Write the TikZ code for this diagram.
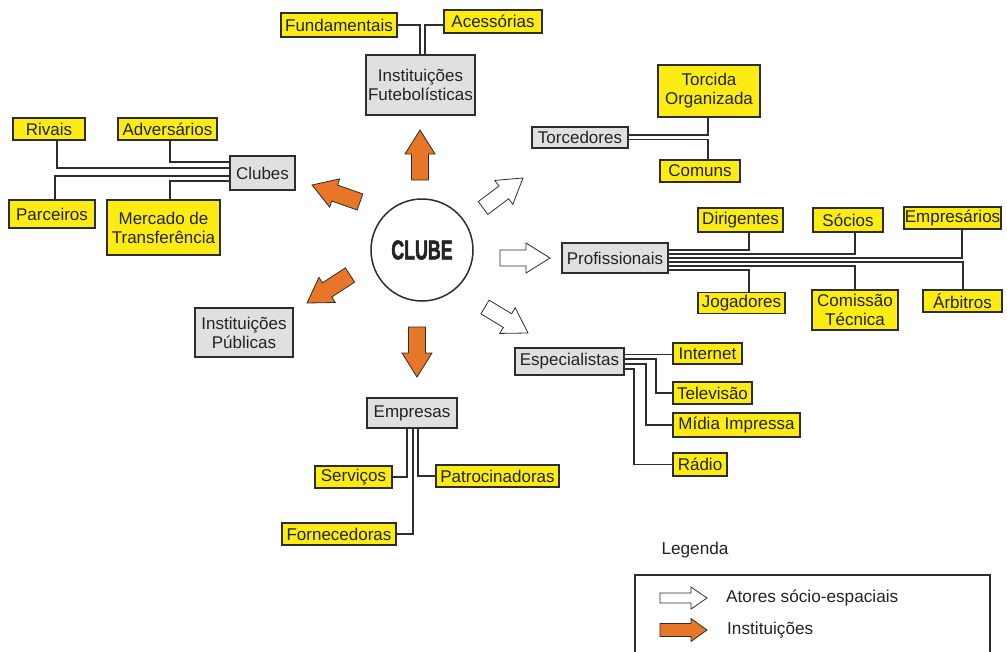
\documentclass[tikz,border=0pt]{standalone}
\usepackage{fontspec}
\setmainfont{Liberation Sans}
\newfontfamily\clubefont{Liberation Sans}[BoldFeatures={FakeBold=2.5}]
\usepackage{graphicx}
\usetikzlibrary{calc}
\definecolor{boxyellow}{RGB}{252,236,20}
\definecolor{boxgray}{RGB}{224,224,224}
\definecolor{arroworange}{RGB}{232,118,40}
\definecolor{linegray}{RGB}{45,45,45}
\definecolor{textgray}{RGB}{35,35,35}

\tikzset{
  ybox/.style={draw=linegray,line width=1.5pt,fill=boxyellow,inner sep=0pt,align=center,
    text=textgray,font=\fontsize{17}{19}\selectfont},
  gbox/.style={ybox,fill=boxgray},
  sz/.style 2 args={minimum width=#1pt,minimum height=#2pt},
  link/.style={draw=linegray,line width=1.5pt},
  thinlink/.style={draw=linegray,line width=0.8pt},
  orangeblock/.style={fill=arroworange,draw=linegray,line width=0.8pt},
  whiteblock/.style={fill=white,draw=linegray,line width=0.8pt},
  legtext/.style={anchor=west,inner sep=0pt,text=textgray,font=\fontsize{17.2}{19}\selectfont},
}

% style, tail, tip, shaft half width, head half width, head length
\newcommand\blockarrow[6]{%
  \coordinate (ba-t) at #2;
  \coordinate (ba-p) at #3;
  \coordinate (ba-h) at ($(ba-p)!#6pt!(ba-t)$);
  \draw[#1] ($(ba-t)!#4pt!90:(ba-p)$) -- ($(ba-h)!#4pt!-90:(ba-t)$) -- ($(ba-h)!#5pt!-90:(ba-t)$)
    -- (ba-p) -- ($(ba-h)!#5pt!90:(ba-t)$) -- ($(ba-h)!#4pt!90:(ba-t)$) -- ($(ba-t)!#4pt!-90:(ba-p)$) -- cycle;}

\begin{document}
\begin{tikzpicture}[x=1pt,y=-1pt]
  \useasboundingbox (0,0) rectangle (1007,651);

  % centro
  \node[circle,draw=linegray,line width=1.5pt,minimum size=102pt,inner sep=0pt,text=textgray,
    font=\clubefont\fontsize{27}{27}\selectfont\bfseries] (clube) at (422,250) {\scalebox{0.66}[1]{CLUBE}};

  % instituicoes futebolisticas
  \node[gbox,sz={109}{60}] (instfut) at (420.5,85) {Instituições\\Futebolísticas};
  \node[ybox,sz={116}{24}] (fund) at (339,25) {Fundamentais};
  \node[ybox,sz={98}{23}] (aces) at (493,21.5) {Acessórias};
  \draw[link] (fund.east) -| (instfut.north -| 420,0);
  \draw[link] (aces.west |- 0,25) -| (instfut.north -| 425,0);

  % clubes
  \node[gbox,sz={65}{34}] (clubes) at (262.5,173) {Clubes};
  \node[ybox,sz={72}{22}] (rivais) at (49,129) {Rivais};
  \node[ybox,sz={99}{22}] (adv) at (167.5,129) {Adversários};
  \node[ybox,sz={86}{28}] (parc) at (52,214) {Parceiros};
  \node[ybox,sz={113}{55}] (merc) at (163.5,227.5) {Mercado de\\Transferência};
  \draw[link] (adv.south -| 170,0) |- (clubes.west |- 0,162);
  \draw[link] (rivais.south -| 57,0) |- (clubes.west |- 0,168);
  \draw[link] (parc.north -| 55,0) |- (clubes.west |- 0,176);
  \draw[link] (merc.north -| 170,0) |- (clubes.west |- 0,181);

  % torcedores
  \node[gbox,sz={96}{21}] (torcedores) at (580,137.5) {Torcedores};
  \node[ybox,sz={102}{52}] (torc) at (709,91) {Torcida\\Organizada};
  \node[ybox,sz={80}{22}] (comuns) at (700,171) {Comuns};
  \draw[link] (torc.south -| 708,0) |- (torcedores.east |- 0,135);
  \draw[link] (comuns.north -| 708,0) |- (torcedores.east |- 0,139.5);

  % profissionais
  \node[gbox,sz={106}{30}] (prof) at (615,258) {Profissionais};
  \node[ybox,sz={85}{24}] (dirig) at (740.5,220) {Dirigentes};
  \node[ybox,sz={70}{24}] (socios) at (848,220) {Sócios};
  \node[ybox,sz={97}{22}] (empr) at (952.5,218) {Empresários};
  \node[ybox,sz={87}{21}] (jog) at (741.5,303) {Jogadores};
  \node[ybox,sz={86}{40}] (comis) at (855,310) {Comissão\\Técnica};
  \node[ybox,sz={79}{22}] (arb) at (962.5,301) {Árbitros};
  \draw[link] (dirig.south -| 749,0) |- (prof.east |- 0,250);
  \draw[link] (socios.south -| 855,0) |- (prof.east |- 0,254);
  \draw[link] (empr.south -| 962,0) |- (prof.east |- 0,258);
  \draw[link] (arb.north -| 963,0) |- (prof.east |- 0,262);
  \draw[link] (comis.north -| 855,0) |- (prof.east |- 0,266);
  \draw[link] (jog.north -| 749,0) |- (prof.east |- 0,270);

  % especialistas
  \node[gbox,sz={109}{27}] (espec) at (569.5,361.5) {Especialistas};
  \node[ybox,sz={69}{21}] (internet) at (707.5,353.5) {Internet};
  \node[ybox,sz={79}{22}] (tele) at (712.5,393) {Televisão};
  \node[ybox,sz={127}{24}] (midia) at (736.5,425) {Mídia Impressa};
  \node[ybox,sz={54}{23}] (radio) at (700,464.5) {Rádio};
  \draw[thinlink] (espec.east |- 0,354) -- (internet.west |- 0,354);
  \draw[link] (espec.east |- 0,359) -- ++(31,0) |- (tele.west);
  \draw[link] (espec.east |- 0,364) -- ++(21,0) |- (midia.west);
  \draw[link] (espec.east |- 0,369) -- ++(9,0) |- (radio.west);

  % empresas
  \node[gbox,sz={90}{30}] (empresas) at (412,413) {Empresas};
  \node[ybox,sz={77}{22}] (serv) at (353.5,477) {Serviços};
  \node[ybox,sz={123}{22}] (patro) at (497.5,476) {Patrocinadoras};
  \node[ybox,sz={114}{22}] (forn) at (339,534) {Fornecedoras};
  \draw[link] (serv.east) -| (empresas.south -| 407,0);
  \draw[link] (forn.east) -| (empresas.south -| 413,0);
  \draw[link] (patro.west) -| (empresas.south -| 418,0);

  % instituicoes publicas
  \node[gbox,sz={98}{49}] (instpub) at (244,332.5) {Instituições\\Públicas};

  % setas
  \blockarrow{orangeblock}{(420,180)}{(420,130)}{8.5}{15}{24}
  \blockarrow{orangeblock}{(360,202)}{(312,185)}{8.5}{15}{24}
  \blockarrow{orangeblock}{(350,275)}{(307,303)}{8.5}{15}{24}
  \blockarrow{orangeblock}{(417,327)}{(417,377)}{8.5}{15}{24}
  \blockarrow{whiteblock}{(483,208)}{(523,178)}{8}{15}{24}
  \blockarrow{whiteblock}{(500,258)}{(550,258)}{8}{15}{24}
  \blockarrow{whiteblock}{(485,307)}{(528,333)}{8}{15}{24}

  % legenda
  \node[text=textgray,font=\fontsize{17.2}{19}\selectfont] (legenda) at (695,550) {Legenda};
  \draw[draw=linegray,line width=1.5pt] (635,575) rectangle (990,680);
  \blockarrow{whiteblock}{(660,598)}{(707,598)}{5}{11}{16}
  \blockarrow{orangeblock}{(660,630)}{(707,630)}{6.5}{11.5}{16}
  \node[legtext] (leg-atores) at (726,598) {Atores sócio-espaciais};
  \node[legtext] (leg-inst) at (727,630) {Instituições};
\end{tikzpicture}
\end{document}
